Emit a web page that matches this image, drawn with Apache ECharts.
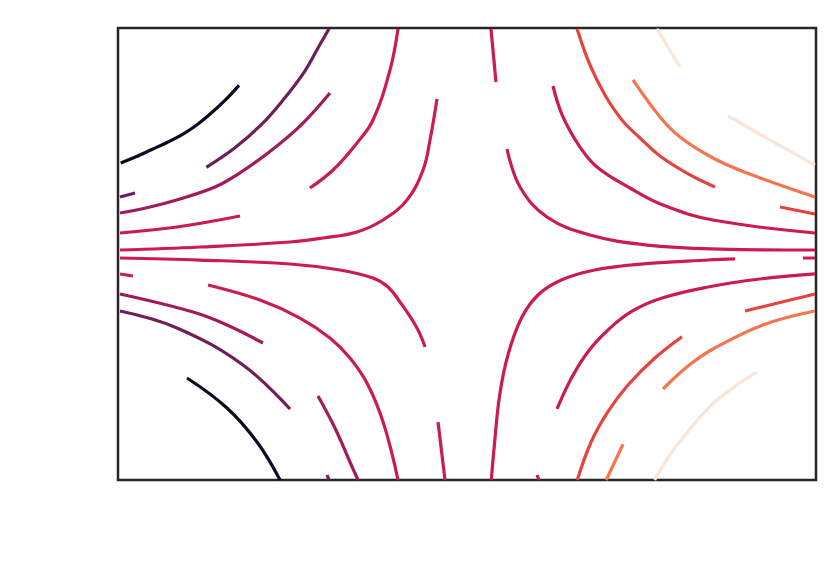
<!DOCTYPE html>
<html>
<head>
<meta charset="utf-8">
<script src="https://cdn.jsdelivr.net/npm/echarts@6/dist/echarts.min.js"></script>
<style>
  html, body { margin: 0; padding: 0; background: #ffffff; }
  #chart { width: 839px; height: 585px; }
</style>
</head>
<body>
<div id="chart"></div>
<script>
// Streamlines of a saddle-type flow (x and y in [-3, 3]).
// Each streamline: list of [x, y] points; colour level 0 (darkest) .. 6 (lightest).
const s01 = [[-2.977,1.208],[-2.856,1.284],[-2.714,1.384],[-2.570,1.487],[-2.427,1.606],[-2.312,1.726],[-2.198,1.872],[-2.083,2.035],[-1.960,2.239]];
const s02 = [[-2.241,1.151],[-1.997,1.407],[-1.768,1.716],[-1.567,2.071],[-1.395,2.425],[-1.281,2.734],[-1.186,2.990]];
const s03 = [[-2.983,0.757],[-2.854,0.810]];
const s04 = [[-2.983,0.544],[-2.725,0.624],[-2.467,0.730],[-2.166,0.889],[-1.994,1.035],[-1.711,1.341],[-1.427,1.712],[-1.178,2.137]];
const s05 = [[-2.983,0.279],[-2.493,0.358],[-1.951,0.504]];
const s06 = [[-1.350,0.876],[-1.152,1.115],[-0.946,1.473],[-0.808,1.779],[-0.662,2.442],[-0.593,2.990]];
const s07 = [[-2.983,0.053],[-2.295,0.093],[-1.521,0.159],[-1.238,0.212],[-0.946,0.292],[-0.722,0.451],[-0.516,0.717],[-0.378,1.115],[-0.318,1.513],[-0.258,2.057]];
const s08 = [[-2.983,-0.053],[-2.295,-0.080],[-1.521,-0.133],[-1.092,-0.212],[-0.808,-0.319],[-0.679,-0.438],[-0.576,-0.637],[-0.430,-0.982],[-0.361,-1.234]];
const s09 = [[-2.983,-0.265],[-2.871,-0.292]];
const s10 = [[-2.226,-0.411],[-1.779,-0.611],[-1.436,-0.850],[-1.178,-1.115],[-1.006,-1.381],[-0.851,-1.739],[-0.713,-2.270],[-0.593,-3.000]];
const s11 = [[-2.983,-0.531],[-2.355,-0.770],[-2.063,-0.942],[-1.754,-1.181]];
const s12 = [[-2.983,-0.757],[-2.493,-0.982],[-1.926,-1.473],[-1.521,-2.057]];
const s13 = [[-2.407,-1.646],[-2.063,-2.044],[-1.805,-2.496],[-1.607,-3.000]];
const s14 = [[-1.281,-1.885],[-1.135,-2.310],[-1.006,-2.761],[-0.937,-3.000]];
const s15 = [[-1.203,-2.934],[-1.186,-3.000]];
const s16 = [[-0.249,-2.230],[-0.189,-3.000]];
const s17 = [[0.206,2.990],[0.249,2.283]];
const s18 = [[0.209,-3.000],[0.238,-2.492],[0.281,-1.872],[0.352,-1.341],[0.467,-0.854],[0.610,-0.544],[0.811,-0.345],[1.098,-0.212],[1.470,-0.137],[2.072,-0.080],[2.304,-0.066]];
const s19 = [[0.774,-2.057],[0.897,-1.650],[1.040,-1.297],[1.212,-1.009],[1.412,-0.766],[1.670,-0.588],[2.072,-0.438],[2.519,-0.332],[2.991,-0.265]];
const s20 = [[0.344,1.394],[0.456,0.889],[0.688,0.491],[1.057,0.252],[1.547,0.119],[2.175,0.066],[2.991,0.053]];
const s21 = [[2.888,-0.053],[2.991,-0.053]];
const s22 = [[0.739,2.230],[0.825,1.819],[0.971,1.420],[1.117,1.155],[1.401,0.876],[1.685,0.650],[2.115,0.451],[2.991,0.279]];
const s23 = [[0.946,2.990],[1.057,2.509],[1.186,2.111],[1.332,1.779],[1.487,1.540],[1.659,1.301],[1.917,1.049],[2.132,0.889]];
const s24 = [[1.633,2.990],[1.831,2.482]];
const s25 = [[1.427,2.310],[1.659,1.819],[1.831,1.553],[2.115,1.274],[2.407,1.075],[2.991,0.757]];
const s26 = [[2.244,1.832],[2.605,1.513],[2.991,1.181]];
const s27 = [[2.691,0.624],[2.991,0.531]];
const s28 = [[2.390,-0.757],[2.991,-0.531]];
const s29 = [[1.685,-1.792],[1.900,-1.487],[2.115,-1.261],[2.544,-0.942],[2.991,-0.757]];
const s30 = [[0.948,-3.000],[1.068,-2.492],[1.212,-2.093],[1.384,-1.739],[1.613,-1.384],[1.848,-1.098]];
const s31 = [[1.197,-3.000],[1.341,-2.526]];
const s32 = [[1.613,-3.000],[1.785,-2.579],[2.072,-2.048],[2.261,-1.805],[2.493,-1.566]];
const s33 = [[0.602,-2.934],[0.619,-3.000]];

const streamlines = [s01,s02,s03,s04,s05,s06,s07,s08,s09,s10,s11,s12,s13,s14,s15,s16,s17,
                     s18,s19,s20,s21,s22,s23,s24,s25,s26,s27,s28,s29,s30,s31,s32,s33];
const levels = [0,1,1,2,3,3,3,3,3,3,2,1,0,2,1,3,3,
                3,3,3,3,3,4,6,5,6,4,4,5,4,5,6,3];
const palette = ['#0b0b20','#6e1f57','#a11a5b','#cb1b4f','#e6433e','#f37651','#fae6d6'];

const chart = echarts.init(document.getElementById('chart'), null, { renderer: 'canvas' });
const hiddenAxis = (extra) => Object.assign({
  type: 'value', min: -3, max: 3,
  axisLine: { show: false }, axisTick: { show: false },
  axisLabel: { show: false }, splitLine: { show: false }
}, extra);

chart.setOption({
  animation: false,
  backgroundColor: '#ffffff',
  grid: { left: 118, top: 28, width: 698, height: 452, show: true,
          borderColor: '#262626', borderWidth: 2.5, backgroundColor: 'transparent' },
  xAxis: hiddenAxis({}),
  yAxis: hiddenAxis({}),
  series: streamlines.map((pts, i) => ({
    type: 'line',
    data: pts,
    smooth: 0.4,
    showSymbol: false,
    symbol: 'none',
    clip: true,
    lineStyle: { width: 3.2, color: palette[levels[i]], cap: 'butt' },
    emphasis: { disabled: true }
  }))
});
</script>
</body>
</html>
